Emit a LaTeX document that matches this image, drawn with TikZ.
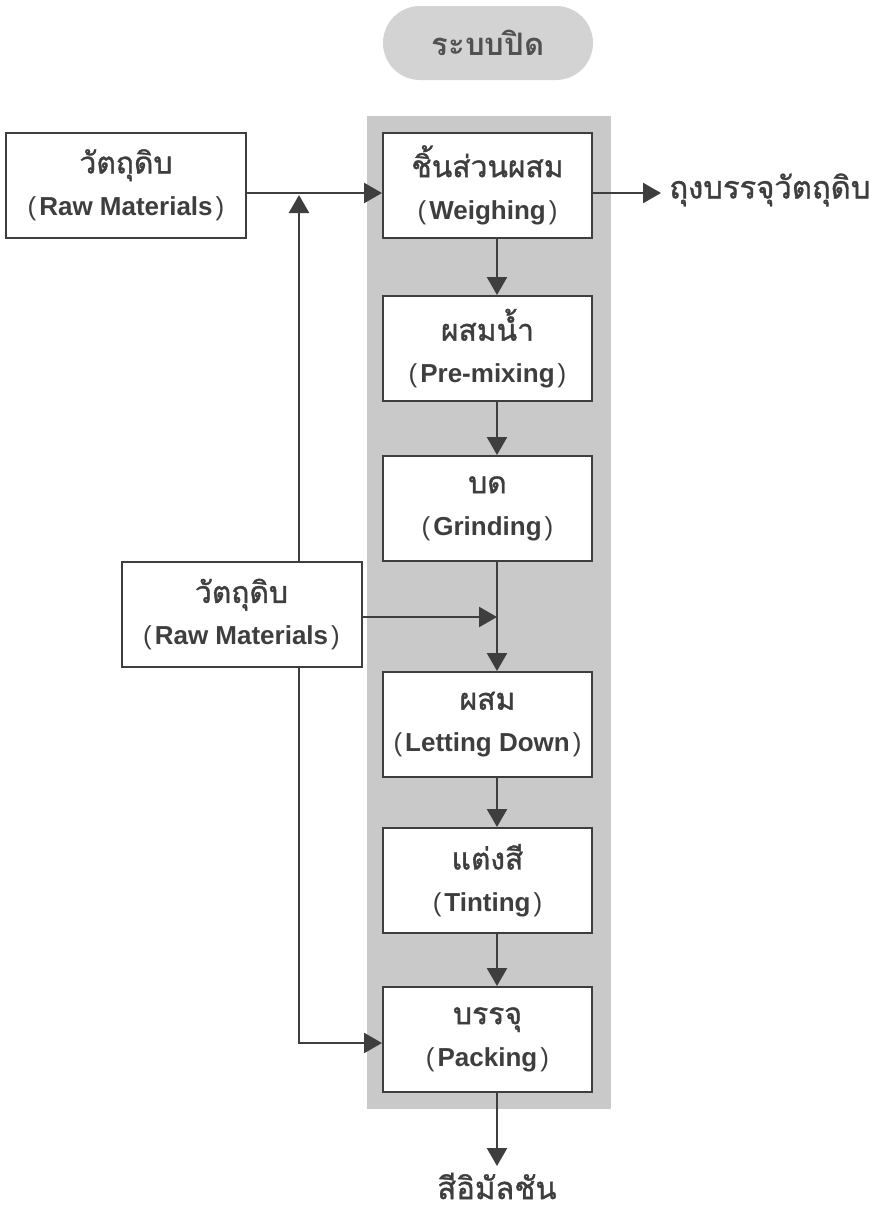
\documentclass[tikz,border=0pt]{standalone}
\usepackage{fontspec}
\setmainfont{Liberation Sans}
\newfontfamily\thaifont[Script=Thai]{Loma}
\newfontfamily\thaimed[Script=Thai,FakeBold=1.2]{Loma}
\usetikzlibrary{arrows.meta,calc,positioning}
\definecolor{ink}{HTML}{3E3E3E}
\definecolor{bandgray}{HTML}{C9C9C9}
\definecolor{pillgray}{HTML}{D3D3D3}
\newcommand{\steplabel}[2]{{\thaimed\fontsize{15}{21}\selectfont #1}\\{\mdseries(}\hspace{1.5pt}\textbf{#2}\hspace{1.5pt}{\mdseries)}}
\tikzset{
  >={Triangle[length=9pt,width=10pt]},
  flow/.style={draw=ink,line width=1.3pt},
  stepbox/.style={draw=ink,line width=1pt,fill=white,text=ink,align=center,
    minimum width=104.5pt,minimum height=52.5pt,inner sep=0pt,
    font=\fontsize{13}{21}\selectfont},
  rawbox/.style={stepbox,minimum width=120pt},
  outtext/.style={text=ink,inner sep=0pt,font=\thaimed\fontsize{15.5}{18}\selectfont},
}
\begin{document}
\begin{tikzpicture}[x=0.5pt,y=-0.5pt]
%
  \useasboundingbox (0,0) rectangle (879,1211) ;
  \fill [bandgray] (367,116) rectangle (611,1109) ;
  \coordinate (spine) at (497,0) ;
  \coordinate (feed) at (299,0) ;
%
  \node (title) at (488,43) [fill=pillgray,rounded corners=18.5pt,minimum width=105pt,
    minimum height=37pt,text=ink!90,font=\thaifont\bfseries\fontsize{15.5}{18}\selectfont] {ระบบปิด} ;
%
  \node (rawtop) at (126,185)   [rawbox] {\steplabel{วัตถุดิบ}{Raw Materials}} ;
  \node (rawmid) at (241.5,614.5) [rawbox] {\steplabel{วัตถุดิบ}{Raw Materials}} ;
%
  \node (weigh)   at (487.5,185)    [stepbox] {\steplabel{ชิ้นส่วนผสม}{Weighing}} ;
  \node (premix)  at (487.5,348.5)  [stepbox] {\steplabel{ผสมน้ำ}{Pre-mixing}} ;
  \node (grind)   at (487.5,508.5)  [stepbox] {\steplabel{บด}{Grinding}} ;
  \node (letdown) at (487.5,724.5)  [stepbox] {\steplabel{ผสม}{Letting Down}} ;
  \node (tint)    at (487.5,880.5)  [stepbox] {\steplabel{แต่งสี}{Tinting}} ;
  \node (pack)    at (487.5,1039.5) [stepbox] {\steplabel{บรรจุ}{Packing}} ;
%
  \node (bag)     at (669,190) [outtext,anchor=west] {ถุงบรรจุวัตถุดิบ} ;
  \node (product) at (497,1186) [outtext] {สีอิมัลชัน} ;
%
  \coordinate (bagtip) at (661,193) ;
  \coordinate (prodtip) at (497,1166) ;
  \coordinate (joint) at (299,193) ;
  \coordinate (merge) at (497,617) ;
  \coordinate (corner) at (299,1043) ;
%
  \draw [flow,->] ($(rawtop.east)+(0,8)$) -- ($(weigh.west)+(0,8)$) ;
  \draw [flow,->] ($(weigh.east)+(0,8)$) -- (bagtip) ;
  \draw [flow,->] (rawmid.north -| feed) -- ($(joint)+(0,2)$) ;
  \draw [flow,->] (rawmid.south -| feed) -- (corner) -- (corner -| pack.west) ;
  \draw [flow,->] ($(rawmid.east)+(0,2.5)$) -- (merge) ;
%
  \draw [flow,->] (weigh.south -| spine) -- (premix.north -| spine) ;
  \draw [flow,->] (premix.south -| spine) -- (grind.north -| spine) ;
  \draw [flow,->] (grind.south -| spine) -- (letdown.north -| spine) ;
  \draw [flow,->] (letdown.south -| spine) -- (tint.north -| spine) ;
  \draw [flow,->] (tint.south -| spine) -- (pack.north -| spine) ;
  \draw [flow,->] (pack.south -| spine) -- (prodtip) ;
%
\end{tikzpicture}
\end{document}
